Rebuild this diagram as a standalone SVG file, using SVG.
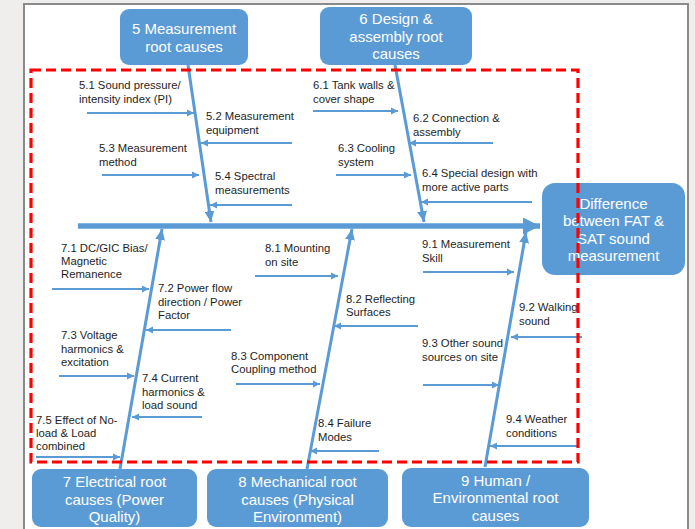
<svg xmlns="http://www.w3.org/2000/svg" width="695" height="529" viewBox="0 0 695 529">
  <style>
    .box { fill: #5b9bd5; }
    .boxtxt { font-family: "Liberation Sans", Arial, sans-serif; font-size: 15px; fill: #ffffff; text-anchor: middle; }
    .lbl { font-family: "Liberation Sans", Arial, sans-serif; font-size: 11.3px; fill: #1e1e1e; }
    .sub { stroke: #5b9bd5; stroke-width: 2; fill: none; marker-end: url(#tip); }
    .bone { stroke: #5b9bd5; stroke-width: 3; fill: none; marker-end: url(#bonehead); }
    .spine { stroke: #5b9bd5; stroke-width: 5.5; fill: none; marker-end: url(#spinehead); }
    .scope { fill: none; stroke: #ff0000; stroke-width: 3.2; stroke-dasharray: 10 5; }
  </style>
  <defs>
    <marker id="tip" markerUnits="userSpaceOnUse" markerWidth="8" markerHeight="8" refX="7" refY="4" orient="auto">
      <path d="M0,0.5 L7,4 L0,7.5 z" fill="#5b9bd5"/>
    </marker>
    <marker id="bonehead" markerUnits="userSpaceOnUse" markerWidth="12" markerHeight="10" refX="11" refY="5" orient="auto">
      <path d="M0,0 L11,5 L0,10 z" fill="#5b9bd5"/>
    </marker>
    <marker id="spinehead" markerUnits="userSpaceOnUse" markerWidth="18" markerHeight="17" refX="17" refY="8.5" orient="auto">
      <path d="M0,0 L17,8.5 L0,17 z" fill="#5b9bd5"/>
    </marker>
  </defs>

  <!-- page backdrop -->
  <rect x="0" y="0" width="695" height="529" fill="#efeeed"/>
  <rect x="24" y="4" width="664" height="535" fill="#ffffff" stroke="#8a8a8a" stroke-width="2"/>

  <!-- connectors: spine, bones and cause arrows -->
  <g id="connectors">
    <line class="spine" x1="78" y1="226" x2="540" y2="226"/>
    <line class="bone" x1="188" y1="65" x2="211" y2="222"/>
    <line class="bone" x1="395" y1="65" x2="424" y2="222"/>
    <line class="bone" x1="120" y1="469" x2="162" y2="229"/>
    <line class="bone" x1="307" y1="469" x2="352" y2="229"/>
    <line class="bone" x1="485" y1="467" x2="526" y2="232"/>

    <line class="sub" x1="87" y1="113" x2="194" y2="113"/>
    <line class="sub" x1="292" y1="143" x2="201" y2="143"/>
    <line class="sub" x1="102" y1="175" x2="199" y2="175"/>
    <line class="sub" x1="292" y1="205" x2="210" y2="205"/>

    <line class="sub" x1="313" y1="111" x2="398" y2="111"/>
    <line class="sub" x1="493" y1="143" x2="409" y2="143"/>
    <line class="sub" x1="336" y1="175" x2="411" y2="175"/>
    <line class="sub" x1="532" y1="202" x2="421" y2="202"/>

    <line class="sub" x1="52" y1="289" x2="149" y2="289"/>
    <line class="sub" x1="231" y1="330" x2="146" y2="330"/>
    <line class="sub" x1="59" y1="376" x2="134" y2="376"/>
    <line class="sub" x1="202" y1="417" x2="132" y2="417"/>
    <line class="sub" x1="36" y1="457" x2="120" y2="457"/>

    <line class="sub" x1="255" y1="276" x2="338" y2="276"/>
    <line class="sub" x1="418" y1="326" x2="334" y2="326"/>
    <line class="sub" x1="236" y1="384" x2="320" y2="384"/>
    <line class="sub" x1="379" y1="451" x2="310" y2="451"/>

    <line class="sub" x1="423" y1="272" x2="514" y2="272"/>
    <line class="sub" x1="582" y1="337" x2="511" y2="337"/>
    <line class="sub" x1="423" y1="385" x2="499" y2="385"/>
    <line class="sub" x1="578" y1="446" x2="490" y2="446"/>
  </g>

  <!-- cause labels -->
  <g id="labels">
    <text class="lbl" x="79" y="89">5.1 Sound pressure/<tspan x="79" y="103">intensity index (PI)</tspan></text>
    <text class="lbl" x="206" y="120">5.2 Measurement<tspan x="206" y="134">equipment</tspan></text>
    <text class="lbl" x="99" y="152">5.3 Measurement<tspan x="99" y="166">method</tspan></text>
    <text class="lbl" x="215" y="180">5.4 Spectral<tspan x="215" y="194">measurements</tspan></text>

    <text class="lbl" x="313" y="89">6.1 Tank walls &amp;<tspan x="313" y="103">cover shape</tspan></text>
    <text class="lbl" x="413" y="122">6.2 Connection &amp;<tspan x="413" y="136">assembly</tspan></text>
    <text class="lbl" x="338" y="152">6.3 Cooling<tspan x="338" y="166">system</tspan></text>
    <text class="lbl" x="422" y="177">6.4 Special design with<tspan x="422" y="191">more active parts</tspan></text>

    <text class="lbl" x="61" y="252">7.1 DC/GIC Bias/<tspan x="61" y="265">Magnetic</tspan><tspan x="61" y="278">Remanence</tspan></text>
    <text class="lbl" x="158" y="292">7.2 Power flow<tspan x="158" y="306">direction / Power</tspan><tspan x="158" y="319">Factor</tspan></text>
    <text class="lbl" x="61" y="339">7.3 Voltage<tspan x="61" y="353">harmonics &amp;</tspan><tspan x="61" y="366">excitation</tspan></text>
    <text class="lbl" x="142" y="382">7.4 Current<tspan x="142" y="396">harmonics &amp;</tspan><tspan x="142" y="409">load sound</tspan></text>
    <text class="lbl" x="36" y="424">7.5 Effect of No-<tspan x="36" y="437">load &amp; Load</tspan><tspan x="36" y="450">combined</tspan></text>

    <text class="lbl" x="265" y="252">8.1 Mounting<tspan x="265" y="266">on site</tspan></text>
    <text class="lbl" x="346" y="303">8.2 Reflecting<tspan x="346" y="316">Surfaces</tspan></text>
    <text class="lbl" x="231" y="360">8.3 Component<tspan x="231" y="373">Coupling method</tspan></text>
    <text class="lbl" x="318" y="427">8.4 Failure<tspan x="318" y="441">Modes</tspan></text>

    <text class="lbl" x="422" y="248">9.1 Measurement<tspan x="422" y="262">Skill</tspan></text>
    <text class="lbl" x="519" y="311">9.2 Walking<tspan x="519" y="325">sound</tspan></text>
    <text class="lbl" x="422" y="347">9.3 Other sound<tspan x="422" y="361">sources on site</tspan></text>
    <text class="lbl" x="506" y="423">9.4 Weather<tspan x="506" y="437">conditions</tspan></text>
  </g>

  <!-- category and effect boxes -->
  <g id="cat5">
    <rect class="box" x="120" y="9" width="128" height="56" rx="9"/>
    <text class="boxtxt" x="184" y="33.5">5 Measurement<tspan x="184" y="51.5">root causes</tspan></text>
  </g>
  <g id="cat6">
    <rect class="box" x="320" y="7" width="152" height="58" rx="9"/>
    <text class="boxtxt" x="396" y="24">6 Design &amp;<tspan x="396" y="41.5">assembly root</tspan><tspan x="396" y="59">causes</tspan></text>
  </g>
  <g id="effect">
    <rect class="box" x="542" y="183" width="143" height="92" rx="13"/>
    <text class="boxtxt" x="613.5" y="208.5">Difference<tspan x="613.5" y="226">between FAT &amp;</tspan><tspan x="613.5" y="243.5">SAT sound</tspan><tspan x="613.5" y="261">measurement</tspan></text>
  </g>
  <g id="cat7">
    <rect class="box" x="32" y="469" width="165" height="58" rx="9"/>
    <text class="boxtxt" x="114.5" y="487">7 Electrical root<tspan x="114.5" y="504.5">causes (Power</tspan><tspan x="114.5" y="522">Quality)</tspan></text>
  </g>
  <g id="cat8">
    <rect class="box" x="207" y="469" width="181" height="58" rx="9"/>
    <text class="boxtxt" x="297.5" y="487">8 Mechanical root<tspan x="297.5" y="504.5">causes (Physical</tspan><tspan x="297.5" y="522">Environment)</tspan></text>
  </g>
  <g id="cat9">
    <rect class="box" x="402" y="468" width="187" height="59" rx="9"/>
    <text class="boxtxt" x="495.5" y="485.5">9 Human /<tspan x="495.5" y="503">Environmental root</tspan><tspan x="495.5" y="520.5">causes</tspan></text>
  </g>

  <!-- scope outline -->
  <rect class="scope" x="31" y="70" width="547" height="392"/>
</svg>
